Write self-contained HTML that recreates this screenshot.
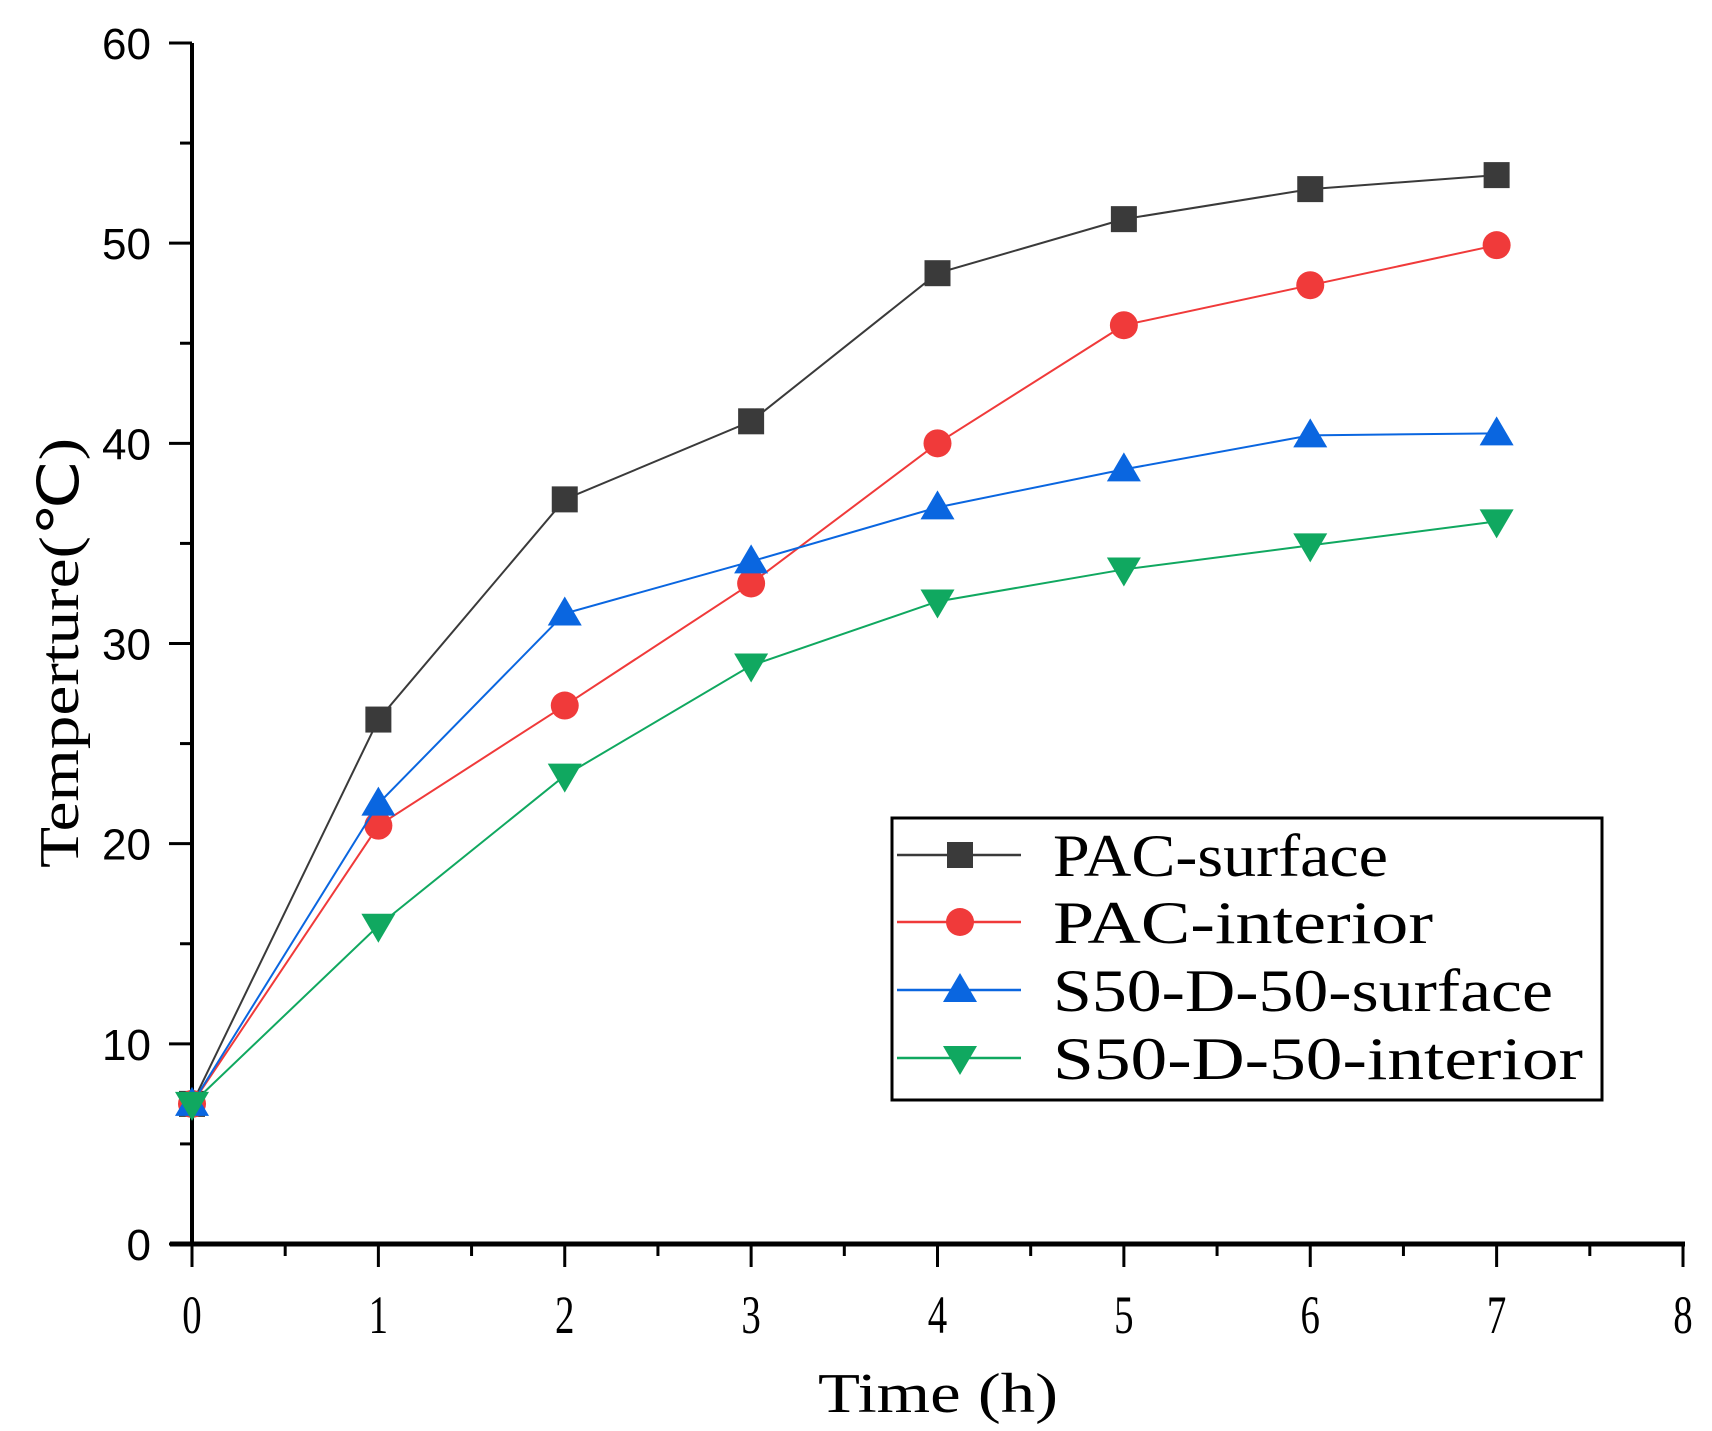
<!DOCTYPE html>
<html><head><meta charset="utf-8"><style>
html,body{margin:0;padding:0;background:#fff;}
svg{display:block;}
text{font-family:"Liberation Serif",serif;fill:#000;}
</style></head><body>
<svg id="chart" width="1712" height="1431" viewBox="0 0 1712 1431">
<g id="axes"></g>
<g id="series"></g>
<g id="legend"></g>
</svg>
<script>
const times = [0,1,2,3,4,5,6,7];
const pacSurface = [7, 26.2, 37.2, 41.1, 48.5, 51.2, 52.7, 53.4];
const pacInterior = [7, 20.9, 26.9, 33, 40, 45.9, 47.9, 49.9];
const s50Surface = [7, 22, 31.5, 34.1, 36.8, 38.7, 40.4, 40.5];
const s50Interior = [7, 15.9, 23.4, 28.9, 32.1, 33.7, 34.9, 36.1];
const xTicks = [0,1,2,3,4,5,6,7,8];
const yTicks = [0,10,20,30,40,50,60];
const seriesNames = ["PAC-surface","PAC-interior","S50-D-50-surface","S50-D-50-interior"];

const NS="http://www.w3.org/2000/svg";
const X0=192, X1=1683, Y0=1244, Y1=43;
const xs=v=>X0+(v-0)/(8-0)*(X1-X0);
const ys=v=>Y0-(v-0)/(60-0)*(Y0-Y1);
function mk(tag,attrs,parent){const e=document.createElementNS(NS,tag);for(const k in attrs)e.setAttribute(k,attrs[k]);parent.appendChild(e);return e;}
const axes=document.getElementById('axes');
let l=mk('line',{x1:X0,y1:Y1,x2:X0,y2:Y0+2,stroke:'#000','stroke-width':4},axes);


l=mk('line',{x1:170,y1:Y0,x2:X1+2,y2:Y0,stroke:'#000','stroke-width':5},axes);


for(let v=0;v<=8;v+=0.5){
  const major=Number.isInteger(v);
  const t=mk('line',{x1:xs(v),y1:Y0,x2:xs(v),y2:Y0+(major?23:12),stroke:'#000','stroke-width':3},axes);
  
  
}
xTicks.forEach(v=>{
  const t=mk('text',{x:xs(v),y:1333,'text-anchor':'middle','font-size':54,transform:`translate(${xs(v)},0) scale(0.72,1) translate(${-xs(v)},0)`},axes);
  t.textContent=v;
  
  
});
for(let v=0;v<=60;v+=5){
  const major=v%10===0;
  const t=mk('line',{x1:X0-(major?23:12),y1:ys(v),x2:X0,y2:ys(v),stroke:'#000','stroke-width':3},axes);
  
  
}
yTicks.forEach(v=>{
  const t=mk('text',{x:151,y:ys(v)+16,'text-anchor':'end','font-size':44,style:'font-family:"Liberation Sans",sans-serif'},axes);
  t.textContent=v;
  
  
});
let tt=mk('text',{x:938,y:1412,'text-anchor':'middle','font-size':56,textLength:240,lengthAdjust:'spacingAndGlyphs'},axes);
tt.textContent='Time (h)';


tt=mk('text',{x:0,y:0,'text-anchor':'middle','font-size':56,textLength:430,lengthAdjust:'spacingAndGlyphs',transform:'translate(78,653) rotate(-90)'},axes);
tt.textContent='Temperture(℃)';



const colors=['#3a3a3a','#f03a3a','#0a66e0','#10a860'];
const data=[pacSurface,pacInterior,s50Surface,s50Interior];
function marker(i,cx,cy,parent,s){
  s=s||1;
  const c=colors[i];let m;
  if(i===0)m=mk('rect',{x:cx-13*s,y:cy-13*s,width:26*s,height:26*s,fill:c},parent);
  else if(i===1)m=mk('circle',{cx:cx,cy:cy,r:14*s,fill:c},parent);
  else if(i===2)m=mk('polygon',{points:`${cx},${cy-17*s} ${cx+17*s},${cy+12*s} ${cx-17*s},${cy+12*s}`,fill:c},parent);
  else m=mk('polygon',{points:`${cx},${cy+17*s} ${cx+17*s},${cy-12*s} ${cx-17*s},${cy-12*s}`,fill:c},parent);
  return m;
}
const sg=document.getElementById('series');
data.forEach((arr,i)=>{
  const g=mk('g',{},sg);
  
  
  const pl=mk('polyline',{points:arr.map((v,j)=>xs(times[j])+','+ys(v)).join(' '),fill:'none',stroke:colors[i],'stroke-width':2},g);
  
  
  arr.forEach((v,j)=>{
    const m=marker(i,xs(times[j]),ys(v),g);
    
    
  });
});
const lg=document.getElementById('legend');
const box=mk('rect',{x:892,y:818,width:710,height:282,fill:'#fff',stroke:'#000','stroke-width':3},lg);


const rowsY=[855,922,990,1058];
const widths=[335,380,500,530];
seriesNames.forEach((n,i)=>{
  const g=mk('g',{},lg);
  
  
  mk('line',{x1:897,y1:rowsY[i],x2:1021,y2:rowsY[i],stroke:colors[i],'stroke-width':2.5},g);
  marker(i,960,rowsY[i],g);
  const t=mk('text',{x:1053,y:rowsY[i]+21,'font-size':60,textLength:widths[i],lengthAdjust:'spacingAndGlyphs'},g);
  t.textContent=n;
  
  
});
</script>
</body></html>
